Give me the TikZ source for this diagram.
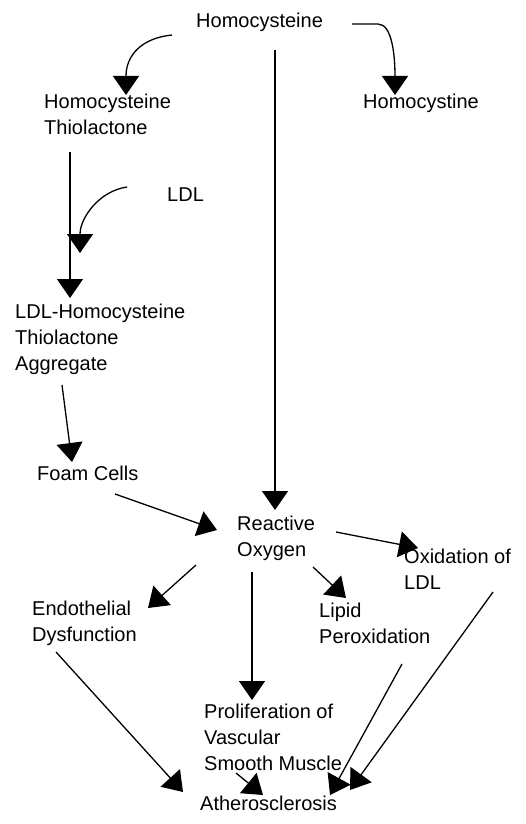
\documentclass[tikz,border=0pt]{standalone}
\usepackage{fontspec}
\setmainfont{Liberation Sans}
\usetikzlibrary{arrows.meta}
\begin{document}
\begin{tikzpicture}[x=1pt,y=1pt,
  lbl/.style={anchor=north west, inner sep=0pt, align=left, font=\fontsize{20}{26}\selectfont},
  arr/.style={line width=1.3pt, -{Triangle[length=19pt,width=26pt]}}]
\useasboundingbox[fill=white] (0,0) rectangle (525,-824);
% nodes
\node[lbl] (hcy) at (196,-13) {Homocysteine};
\node[lbl] (hct) at (44,-94) {Homocysteine\\Thiolactone};
\node[lbl] (hcs) at (363,-94) {Homocystine};
\node[lbl] (ldl) at (167,-188) {LDL};
\node[lbl] (agg) at (15,-304) {LDL-Homocysteine\\Thiolactone\\Aggregate};
\node[lbl] (foam) at (37,-466) {Foam Cells};
\node[lbl] (ros) at (237,-516) {Reactive\\Oxygen};
\node[lbl] (oxl) at (404,-549) {Oxidation of\\LDL};
\node[lbl] (endo) at (32,-601) {Endothelial\\Dysfunction};
\node[lbl] (lipid) at (319,-603) {Lipid\\Peroxidation};
\node[lbl] (prolif) at (204,-704) {Proliferation of\\Vascular\\Smooth Muscle};
\node[lbl] (ath) at (200,-796) {Atherosclerosis};
% connectors
\draw[arr] ([shift={(-24,-22)}]hcy.north west) .. controls +(-30,-3) and +(0,40) .. ([shift={(82,-1)}]hct.north west);
\draw[arr] ([shift={(156,-11)}]hcy.north west) -- ++(26,0) .. controls +(14,0) and +(0,40) .. ([shift={(32,-1)}]hcs.north west);
\draw[arr] ([shift={(79,-37)}]hcy.north west) -- ([shift={(38,6)}]ros.north west);
\draw[arr] ([shift={(26,-58)}]hct.north west) -- ([shift={(55,6)}]agg.north west);
\coordinate (join) at ([shift={(65,51)}]agg.north west);
\draw[arr] ([shift={(-40,1)}]ldl.north west) .. controls +(-28,-4) and +(0,35) .. (join);
\draw[arr] ([shift={(47,-81)}]agg.north west) -- ([shift={(35,4)}]foam.north west);
\draw[arr] ([shift={(78,-28)}]foam.north west) -- ([shift={(-20,-14)}]ros.north west);
\draw[arr] ([shift={(99,-16)}]ros.north west) -- ([shift={(14,1)}]oxl.north west);
\draw[arr] ([shift={(-41,-49)}]ros.north west) -- ([shift={(116,-7)}]endo.north west);
\draw[arr] ([shift={(15,-56)}]ros.north west) -- ([shift={(48,4)}]prolif.north west);
\draw[arr] ([shift={(76,-51)}]ros.north west) -- ([shift={(27,5)}]lipid.north west);
\draw[arr] ([shift={(24,-51)}]endo.north west) -- ([shift={(-17,4)}]ath.north west);
\draw[arr] ([shift={(32,-69)}]prolif.north west) -- ([shift={(63,1)}]ath.north west);
\draw[arr] ([shift={(83,-61)}]lipid.north west) -- ([shift={(130,1)}]ath.north west);
\draw[arr] ([shift={(89,-43)}]oxl.north west) -- ([shift={(150,6)}]ath.north west);
\end{tikzpicture}
\end{document}
